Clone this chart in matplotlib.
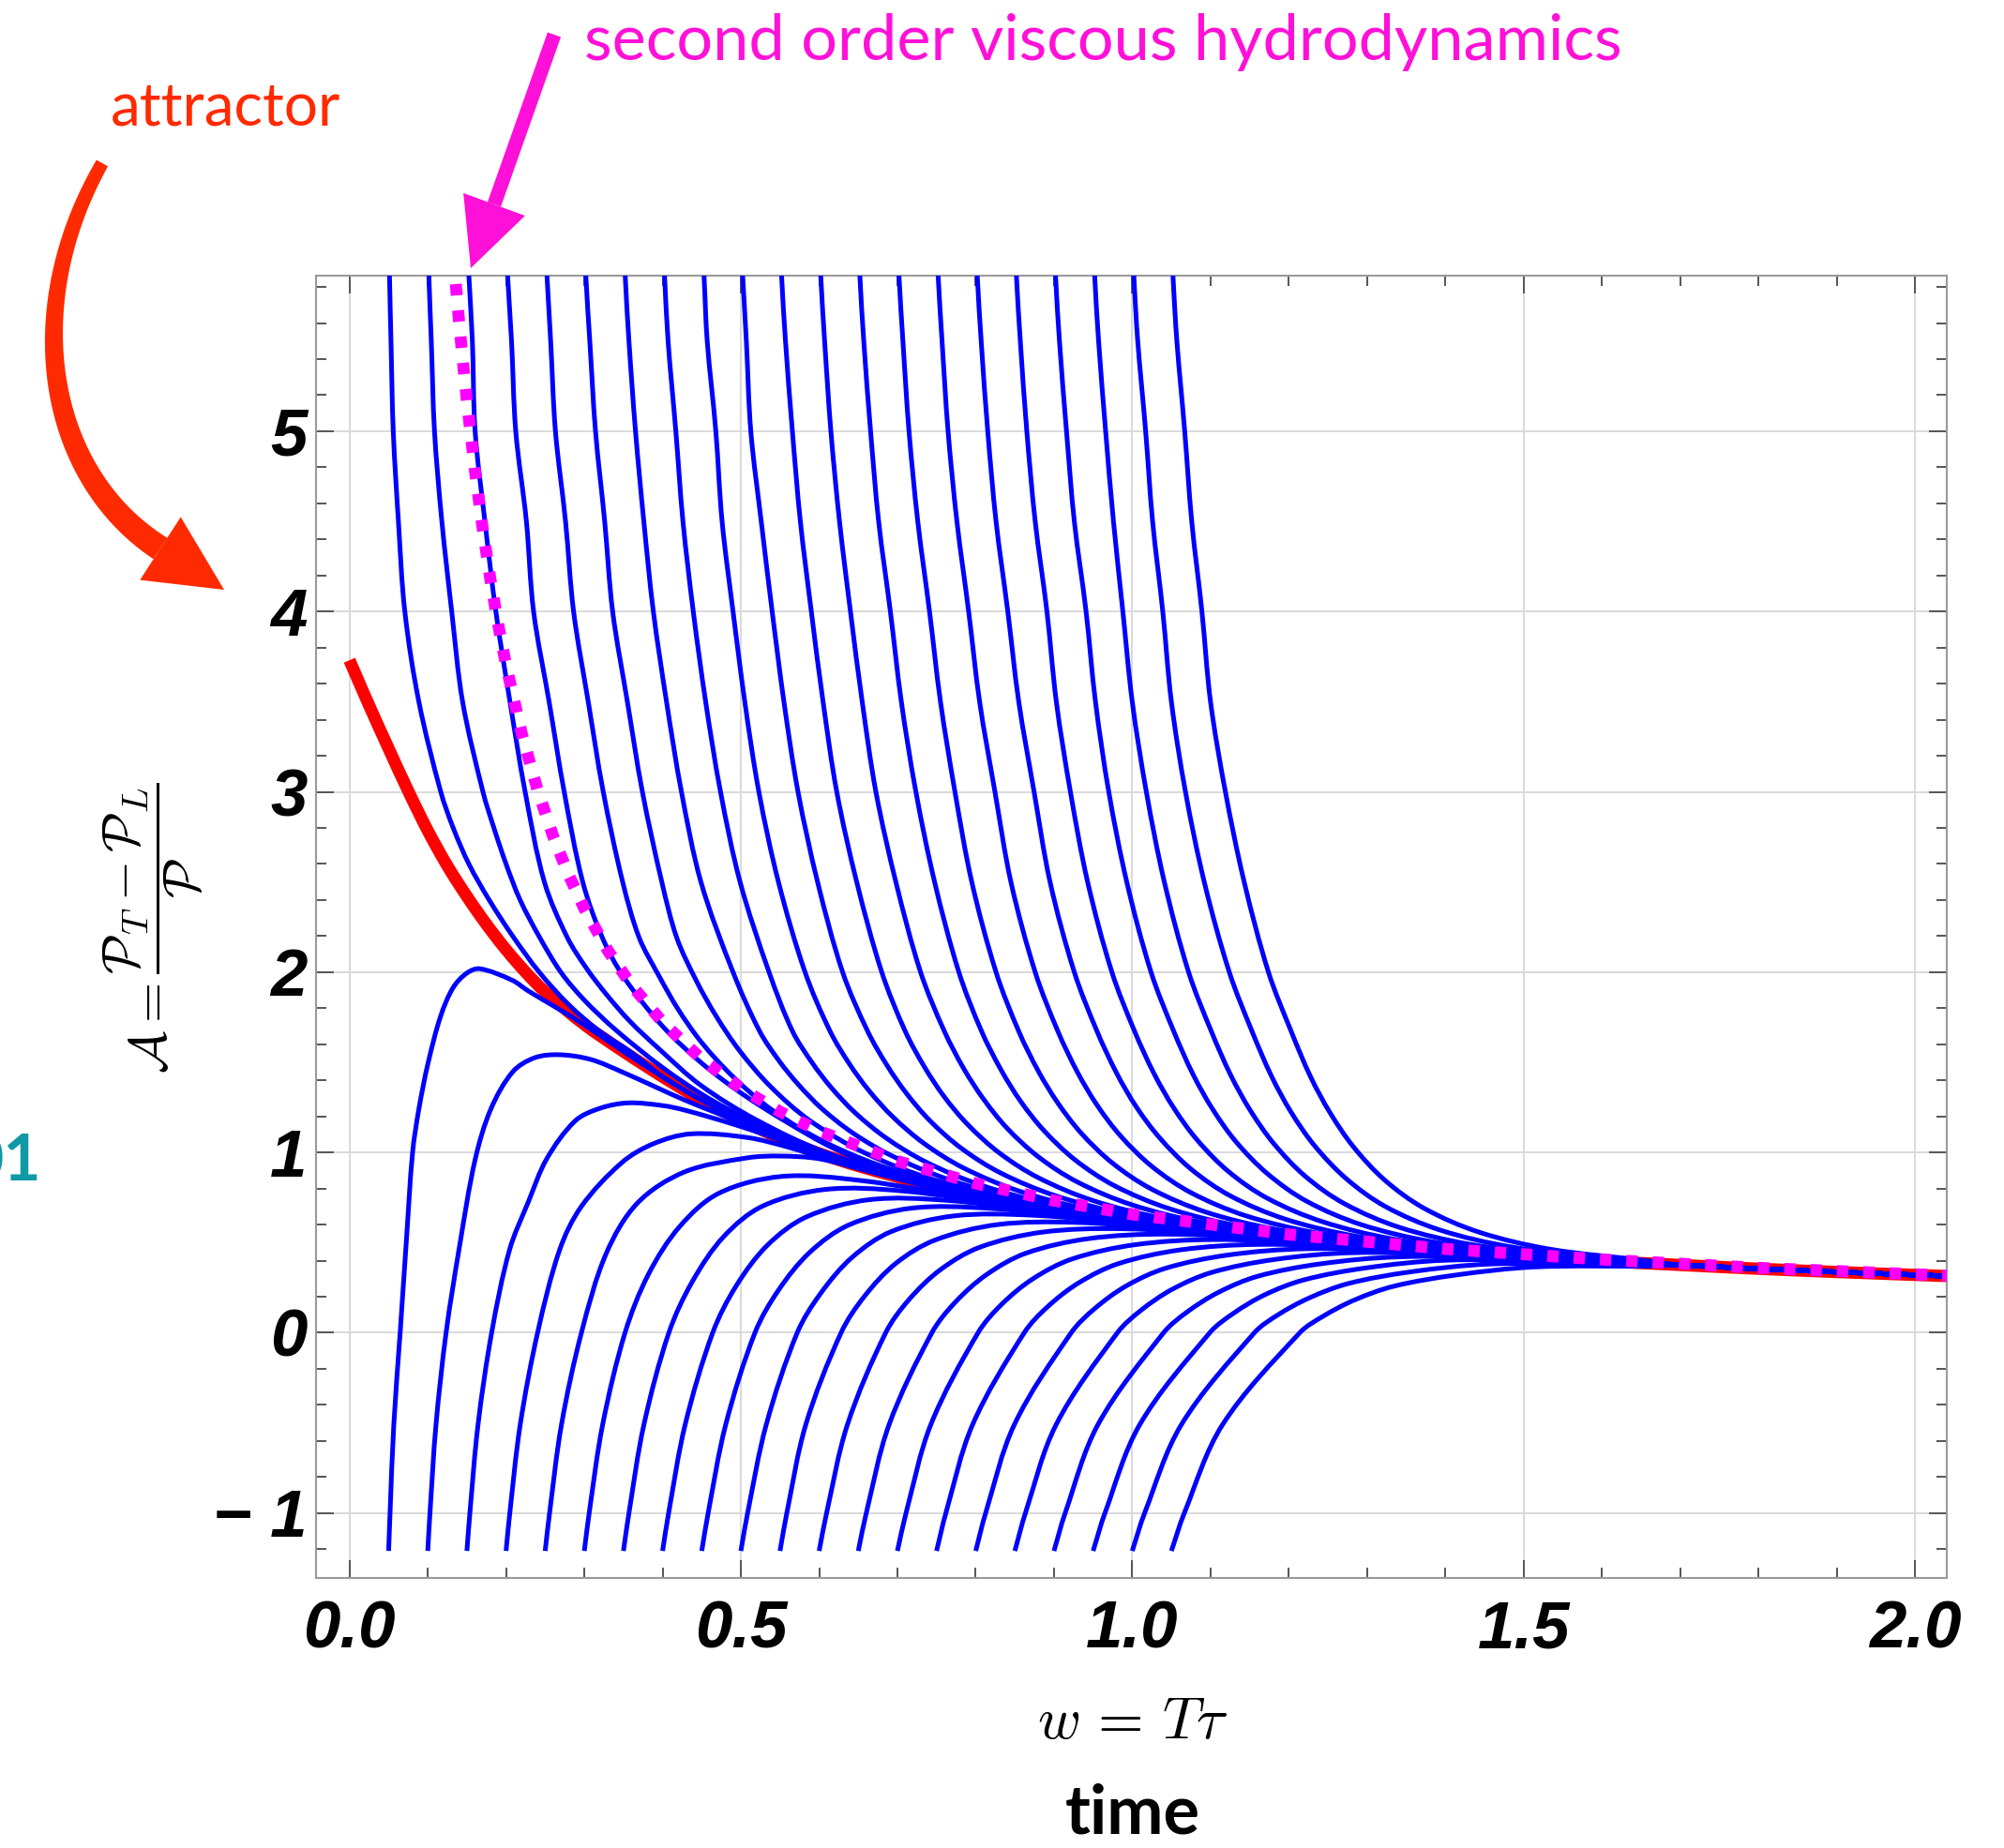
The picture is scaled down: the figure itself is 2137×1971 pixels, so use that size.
import numpy as np
import matplotlib
matplotlib.use("Agg")
import matplotlib.pyplot as plt
from matplotlib.patches import Polygon, PathPatch
from matplotlib.path import Path
from matplotlib.ticker import MultipleLocator
from matplotlib.font_manager import FontProperties

# ---- values ----------------------------------------------------------------

# attractor (red)
attractor_w = [0.0, 0.025, 0.05, 0.075, 0.1, 0.125, 0.15, 0.175, 0.2, 0.225, 0.25,
               0.3, 0.35, 0.4, 0.45, 0.5, 0.55, 0.6, 0.65, 0.7, 0.75, 0.8, 0.85,
               0.9, 0.95, 1.0, 1.1, 1.2, 1.3, 1.4, 1.5, 1.6, 1.7, 1.8, 1.9, 2.05]
attractor_a = [3.73, 3.48, 3.24, 3.005, 2.785, 2.59, 2.42, 2.265, 2.125, 2.0, 1.89,
               1.71, 1.56, 1.42, 1.29, 1.18, 1.08, 0.995, 0.925, 0.865, 0.81, 0.762, 0.72,
               0.683, 0.65, 0.62, 0.568, 0.524, 0.486, 0.453, 0.424, 0.398, 0.376, 0.355, 0.337, 0.313]

# second order viscous hydrodynamics (magenta, dotted)
hydro_w = [0.133, 0.135, 0.14, 0.145, 0.15, 0.16, 0.17, 0.18, 0.19, 0.20, 0.22, 0.24,
           0.26, 0.28, 0.30, 0.33, 0.36, 0.40, 0.45, 0.50, 0.55, 0.60, 0.70, 0.80,
           0.90, 1.0, 1.2, 1.4, 1.6, 1.8, 2.05]
hydro_a = [5.962, 5.857, 5.608, 5.379, 5.168, 4.791, 4.465, 4.179, 3.927, 3.703, 3.324, 3.014,
           2.756, 2.539, 2.353, 2.120, 1.929, 1.722, 1.517, 1.356, 1.226, 1.119, 0.952, 0.828,
           0.733, 0.657, 0.545, 0.465, 0.406, 0.360, 0.3155]

# trajectories coming down from large A (one row per curve)
top_w = [
    [0.0505, 0.0511, 0.053, 0.0559, 0.0625, 0.0707, 0.0886, 0.1166, 0.1325, 0.1525, 0.1785, 0.2085, 0.2424, 0.28, 0.32, 0.36],
    [0.101, 0.1014, 0.1045, 0.1086, 0.118, 0.1306, 0.1445, 0.1705, 0.1845, 0.200, 0.218, 0.242, 0.270, 0.30, 0.34, 0.40, 0.46, 0.55],
    [0.1515, 0.1525, 0.157, 0.1605, 0.173, 0.187, 0.205, 0.2244, 0.249, 0.2783, 0.3033, 0.3283, 0.3583, 0.3983, 0.4483, 0.5183, 0.6083, 0.7283],
    [0.201, 0.202, 0.207, 0.2124, 0.226, 0.2352, 0.255, 0.2743, 0.298, 0.323, 0.35, 0.40, 0.45, 0.50, 0.556, 0.62, 0.70, 0.80, 0.90],
    [0.251, 0.2523, 0.257, 0.2631, 0.276, 0.2863, 0.305, 0.3242, 0.349, 0.370, 0.395, 0.420, 0.450, 0.490, 0.540, 0.610, 0.700, 0.820],
    [0.301, 0.3019, 0.307, 0.3143, 0.326, 0.3362, 0.355, 0.3742, 0.399, 0.418, 0.443, 0.468, 0.498, 0.538, 0.588, 0.658, 0.748, 0.868],
    [0.351, 0.3522, 0.357, 0.3654, 0.376, 0.3882, 0.405, 0.4241, 0.449, 0.490, 0.524, 0.549, 0.574, 0.604, 0.644, 0.694, 0.764, 0.854, 0.974],
    [0.401, 0.4025, 0.407, 0.4169, 0.426, 0.4392, 0.455, 0.474, 0.499, 0.536, 0.566, 0.591, 0.616, 0.646, 0.686, 0.736, 0.806, 0.896, 1.016],
    [0.451, 0.4529, 0.457, 0.468, 0.476, 0.490, 0.505, 0.523, 0.548, 0.582, 0.614, 0.639, 0.664, 0.694, 0.734, 0.784, 0.854, 0.944, 1.064],
    [0.501, 0.5023, 0.507, 0.5127, 0.526, 0.540, 0.555, 0.573, 0.598, 0.630, 0.662, 0.687, 0.712, 0.742, 0.782, 0.832, 0.902, 0.992, 1.112],
    [0.551, 0.552, 0.557, 0.5658, 0.576, 0.590, 0.605, 0.6225, 0.648, 0.680, 0.710, 0.735, 0.760, 0.790, 0.830, 0.880, 0.950, 1.040, 1.160],
    [0.601, 0.602, 0.607, 0.615, 0.626, 0.640, 0.655, 0.6725, 0.698, 0.7296, 0.760, 0.785, 0.810, 0.840, 0.880, 0.930, 1.000, 1.090, 1.210],
    [0.651, 0.652, 0.657, 0.6657, 0.676, 0.691, 0.705, 0.7236, 0.7475, 0.7785, 0.8075, 0.8325, 0.8575, 0.8875, 0.9275, 0.9775, 1.0475, 1.1375, 1.2575],
    [0.701, 0.702, 0.707, 0.7148, 0.726, 0.741, 0.755, 0.7735, 0.795, 0.826, 0.855, 0.880, 0.905, 0.935, 0.975, 1.025, 1.095, 1.185, 1.305],
    [0.751, 0.752, 0.757, 0.7647, 0.776, 0.791, 0.805, 0.8246, 0.845, 0.876, 0.905, 0.930, 0.955, 0.985, 1.025, 1.075, 1.145, 1.235, 1.355],
    [0.801, 0.802, 0.807, 0.8154, 0.826, 0.841, 0.855, 0.8746, 0.895, 0.926, 0.955, 0.980, 1.005, 1.035, 1.075, 1.125, 1.195, 1.285, 1.405],
    [0.851, 0.852, 0.857, 0.8653, 0.876, 0.891, 0.903, 0.921, 0.943, 0.974, 1.003, 1.028, 1.053, 1.083, 1.123, 1.173, 1.243, 1.333, 1.453],
    [0.901, 0.902, 0.907, 0.916, 0.926, 0.941, 0.953, 0.970, 0.993, 1.024, 1.053, 1.078, 1.103, 1.133, 1.173, 1.223, 1.293, 1.383, 1.503],
    [0.951, 0.952, 0.957, 0.966, 0.976, 0.988, 1.000, 1.018, 1.041, 1.072, 1.101, 1.126, 1.151, 1.181, 1.221, 1.271, 1.341, 1.431, 1.551],
    [1.001, 1.002, 1.007, 1.0171, 1.026, 1.039, 1.050, 1.068, 1.092, 1.124, 1.153, 1.178, 1.203, 1.233, 1.273, 1.323, 1.393, 1.483, 1.603],
    [1.051, 1.052, 1.057, 1.067, 1.076, 1.089, 1.100, 1.119, 1.143, 1.174, 1.203, 1.228, 1.253, 1.283, 1.323, 1.373, 1.443, 1.533, 1.653],
]
top_a = [
    [6.0, 5.863, 5.5, 5.0, 4.5, 4.0, 3.5, 3.0, 2.8, 2.6, 2.4, 2.2, 2.0, 1.82, 1.67, 1.555],
    [6.0, 5.863, 5.5, 5.0, 4.5, 4.0, 3.5, 3.0, 2.8, 2.6, 2.4, 2.2, 2.0, 1.845, 1.68, 1.471, 1.297, 1.092],
    [6.0, 5.863, 5.5, 5.0, 4.5, 4.0, 3.5, 3.0, 2.5, 2.192, 2.018, 1.876, 1.727, 1.563, 1.374, 1.184, 1.0, 0.84],
    [6.0, 5.863, 5.5, 5.0, 4.5, 4.0, 3.5, 3.0, 2.5, 2.192, 1.975, 1.70, 1.495, 1.33, 1.175, 1.02, 0.882, 0.77, 0.686],
    [6.0, 5.863, 5.5, 5.0, 4.5, 4.0, 3.5, 3.0, 2.5, 2.192, 1.982, 1.793, 1.609, 1.420, 1.235, 1.051, 0.894, 0.755],
    [6.0, 5.863, 5.5, 5.0, 4.5, 4.0, 3.5, 3.0, 2.5, 2.192, 1.953, 1.759, 1.566, 1.365, 1.177, 0.998, 0.847, 0.718],
    [6.0, 5.863, 5.5, 5.0, 4.5, 4.0, 3.5, 3.0, 2.5, 2.0, 1.672, 1.507, 1.374, 1.241, 1.105, 0.979, 0.852, 0.740, 0.643],
    [6.0, 5.863, 5.5, 5.0, 4.5, 4.0, 3.5, 3.0, 2.5, 2.0, 1.672, 1.498, 1.357, 1.220, 1.079, 0.948, 0.820, 0.713, 0.621],
    [6.0, 5.863, 5.5, 5.0, 4.5, 4.0, 3.5, 3.0, 2.5, 2.0, 1.672, 1.489, 1.341, 1.198, 1.050, 0.915, 0.788, 0.684, 0.597],
    [6.0, 5.863, 5.5, 5.0, 4.5, 4.0, 3.5, 3.0, 2.5, 2.0, 1.672, 1.481, 1.325, 1.174, 1.022, 0.886, 0.760, 0.658, 0.574],
    [6.0, 5.863, 5.5, 5.0, 4.5, 4.0, 3.5, 3.0, 2.5, 2.0, 1.672, 1.471, 1.308, 1.154, 0.998, 0.860, 0.733, 0.634, 0.553],
    [6.0, 5.863, 5.5, 5.0, 4.5, 4.0, 3.5, 3.0, 2.5, 2.0, 1.672, 1.463, 1.296, 1.135, 0.976, 0.836, 0.709, 0.611, 0.532],
    [6.0, 5.863, 5.5, 5.0, 4.5, 4.0, 3.5, 3.0, 2.5, 2.0, 1.672, 1.457, 1.283, 1.120, 0.957, 0.815, 0.688, 0.591, 0.515],
    [6.0, 5.863, 5.5, 5.0, 4.5, 4.0, 3.5, 3.0, 2.5, 2.0, 1.672, 1.451, 1.274, 1.106, 0.940, 0.796, 0.668, 0.572, 0.497],
    [6.0, 5.863, 5.5, 5.0, 4.5, 4.0, 3.5, 3.0, 2.5, 2.0, 1.672, 1.445, 1.263, 1.092, 0.923, 0.777, 0.649, 0.554, 0.482],
    [6.0, 5.863, 5.5, 5.0, 4.5, 4.0, 3.5, 3.0, 2.5, 2.0, 1.672, 1.440, 1.254, 1.081, 0.908, 0.760, 0.631, 0.536, 0.466],
    [6.0, 5.863, 5.5, 5.0, 4.5, 4.0, 3.5, 3.0, 2.5, 2.0, 1.672, 1.436, 1.247, 1.069, 0.894, 0.745, 0.616, 0.520, 0.453],
    [6.0, 5.863, 5.5, 5.0, 4.5, 4.0, 3.5, 3.0, 2.5, 2.0, 1.672, 1.430, 1.238, 1.057, 0.881, 0.729, 0.599, 0.505, 0.438],
    [6.0, 5.863, 5.5, 5.0, 4.5, 4.0, 3.5, 3.0, 2.5, 2.0, 1.672, 1.427, 1.232, 1.048, 0.868, 0.716, 0.585, 0.491, 0.426],
    [6.0, 5.863, 5.5, 5.0, 4.5, 4.0, 3.5, 3.0, 2.5, 2.0, 1.672, 1.422, 1.223, 1.037, 0.856, 0.701, 0.570, 0.477, 0.413],
    [6.0, 5.863, 5.5, 5.0, 4.5, 4.0, 3.5, 3.0, 2.5, 2.0, 1.672, 1.418, 1.218, 1.029, 0.845, 0.690, 0.558, 0.464, 0.402],
]

# trajectories rising from A = -1.21 (one row per curve)
bottom_w = [
    [0.05, 0.0518, 0.0566, 0.0647, 0.0725, 0.0806, 0.0886, 0.1006, 0.1166, 0.1325, 0.15, 0.1665, 0.208, 0.228, 0.288, 0.328],
    [0.10, 0.1028, 0.1105, 0.1234, 0.1406, 0.1605, 0.1805, 0.2085, 0.2364, 0.268, 0.308, 0.348, 0.428, 0.468, 0.50],
    [0.15, 0.1538, 0.1642, 0.1816, 0.2044, 0.2284, 0.252, 0.2883, 0.32, 0.356, 0.40, 0.428, 0.488, 0.54, 0.60],
    [0.20, 0.2048, 0.2181, 0.2403, 0.2684, 0.2963, 0.348, 0.388, 0.436, 0.508, 0.56, 0.62, 0.70],
    [0.25, 0.2556, 0.2708, 0.2963, 0.328, 0.368, 0.428, 0.508, 0.55, 0.60, 0.66, 0.75],
    [0.30, 0.3062, 0.3234, 0.352, 0.382, 0.422, 0.472, 0.552, 0.652, 0.802],
    [0.35, 0.357, 0.3761, 0.408, 0.438, 0.478, 0.528, 0.608, 0.708, 0.858],
    [0.40, 0.4077, 0.4288, 0.464, 0.494, 0.534, 0.584, 0.664, 0.764, 0.914],
    [0.45, 0.4582, 0.4806, 0.518, 0.548, 0.588, 0.638, 0.718, 0.818, 0.968],
    [0.50, 0.5086, 0.5324, 0.572, 0.602, 0.642, 0.692, 0.772, 0.872, 1.022],
    [0.55, 0.5587, 0.5829, 0.628, 0.658, 0.698, 0.748, 0.828, 0.928, 1.078],
    [0.60, 0.6095, 0.6361, 0.685, 0.715, 0.755, 0.805, 0.885, 0.985, 1.135],
    [0.65, 0.6602, 0.6893, 0.744, 0.774, 0.814, 0.864, 0.944, 1.044, 1.194],
    [0.70, 0.711, 0.7426, 0.803, 0.833, 0.873, 0.923, 1.003, 1.103, 1.253],
    [0.75, 0.7619, 0.796, 0.862, 0.892, 0.932, 0.982, 1.062, 1.162, 1.312],
    [0.80, 0.8127, 0.8493, 0.922, 0.952, 0.992, 1.042, 1.122, 1.222, 1.372],
    [0.85, 0.8635, 0.9027, 0.981, 1.011, 1.051, 1.101, 1.181, 1.281, 1.431],
    [0.90, 0.9143, 0.9561, 1.040, 1.070, 1.110, 1.160, 1.240, 1.340, 1.490],
    [0.95, 0.9651, 1.0095, 1.099, 1.129, 1.169, 1.219, 1.299, 1.399, 1.549],
    [1.0, 1.0158, 1.0627, 1.156, 1.186, 1.226, 1.276, 1.356, 1.456, 1.606],
    [1.05, 1.0665, 1.1153, 1.214, 1.244, 1.284, 1.334, 1.414, 1.514, 1.664],
]
bottom_a = [
    [-1.21, -1.0, -0.51, 0.0, 0.5, 1.0, 1.24, 1.5, 1.758, 1.915, 1.995, 2.019, 1.955, 1.897, 1.741, 1.625],
    [-1.21, -1.0, -0.51, 0.0, 0.48, 0.96, 1.24, 1.447, 1.525, 1.542, 1.516, 1.447, 1.291, 1.221, 1.165],
    [-1.21, -1.0, -0.51, 0.0, 0.459, 0.725, 0.965, 1.175, 1.245, 1.275, 1.26, 1.235, 1.16, 1.085, 0.985],
    [-1.21, -1.0, -0.51, 0.0, 0.459, 0.701, 0.944, 1.048, 1.103, 1.083, 1.03, 0.95, 0.855],
    [-1.21, -1.0, -0.51, 0.0, 0.44, 0.72, 0.892, 0.97, 0.98, 0.965, 0.90, 0.80],
    [-1.21, -1.0, -0.51, 0.0, 0.325, 0.590, 0.774, 0.867, 0.845, 0.743],
    [-1.21, -1.0, -0.51, 0.0, 0.284, 0.533, 0.703, 0.795, 0.786, 0.699],
    [-1.21, -1.0, -0.51, 0.0, 0.260, 0.486, 0.643, 0.738, 0.734, 0.660],
    [-1.21, -1.0, -0.51, 0.0, 0.236, 0.446, 0.598, 0.691, 0.690, 0.626],
    [-1.21, -1.0, -0.51, 0.0, 0.219, 0.418, 0.561, 0.648, 0.652, 0.598],
    [-1.21, -1.0, -0.51, 0.0, 0.203, 0.385, 0.514, 0.600, 0.612, 0.568],
    [-1.21, -1.0, -0.51, 0.0, 0.185, 0.350, 0.474, 0.558, 0.577, 0.541],
    [-1.21, -1.0, -0.51, 0.0, 0.170, 0.323, 0.441, 0.522, 0.547, 0.517],
    [-1.21, -1.0, -0.51, 0.0, 0.157, 0.299, 0.409, 0.488, 0.517, 0.494],
    [-1.21, -1.0, -0.51, 0.0, 0.145, 0.278, 0.383, 0.460, 0.490, 0.472],
    [-1.21, -1.0, -0.51, 0.0, 0.134, 0.259, 0.357, 0.431, 0.466, 0.454],
    [-1.21, -1.0, -0.51, 0.0, 0.124, 0.241, 0.334, 0.406, 0.444, 0.434],
    [-1.21, -1.0, -0.51, 0.0, 0.115, 0.224, 0.313, 0.382, 0.421, 0.417],
    [-1.21, -1.0, -0.51, 0.0, 0.107, 0.210, 0.293, 0.360, 0.402, 0.400],
    [-1.21, -1.0, -0.51, 0.0, 0.099, 0.193, 0.273, 0.338, 0.381, 0.382],
    [-1.21, -1.0, -0.51, 0.0, 0.092, 0.182, 0.258, 0.3205, 0.365, 0.370],
]

x_ticks = [0.0, 0.5, 1.0, 1.5, 2.0]
x_tick_labels = ["0.0", "0.5", "1.0", "1.5", "2.0"]
y_ticks = [-1, 0, 1, 2, 3, 4, 5]
y_tick_labels = ["\u2212 1", "0", "1", "2", "3", "4", "5"]

BLUE = "#0000ff"
RED = "#ff0000"
MAGENTA = "#ff00ff"
NOTE_RED = "#ff2a00"
NOTE_MAGENTA = "#ff10d8"
TEAL = "#0f9aa5"

W_PX, H_PX = 2137, 1971
# rough pixels per data unit, only used to measure chord lengths when smoothing
PX_W, PX_A = 834.7, 192.3


def along_attractor(w, a):
    """Once a trajectory has merged, carry it on along the attractor."""
    w, a = list(w), list(a)
    for aw, aa in zip(attractor_w, attractor_a):
        if aw > w[-1] + 0.015:
            w.append(aw)
            a.append(aa)
    return w, a


def smooth_path(w, a):
    """Bezier path running through the read points (chord-length tangents)."""
    q = np.column_stack([w, a]).astype(float) * [PX_W, PX_A]
    d = np.linalg.norm(np.diff(q, axis=0), axis=1)
    tan = np.zeros_like(q)
    tan[0] = (q[1] - q[0]) / d[0]
    tan[-1] = (q[-1] - q[-2]) / d[-1]
    for i in range(1, len(q) - 1):
        tan[i] = (q[i + 1] - q[i - 1]) / (d[i - 1] + d[i])
    verts, codes = [q[0]], [Path.MOVETO]
    for i in range(len(q) - 1):
        verts += [q[i] + tan[i] * d[i] / 3, q[i + 1] - tan[i + 1] * d[i] / 3, q[i + 1]]
        codes += [Path.CURVE4] * 3
    return Path(np.array(verts) / [PX_W, PX_A], codes)


def draw_curve(ax, w, a, **kw):
    patch = PathPatch(smooth_path(w, a), fill=False, **kw)
    patch.set_capstyle("butt")
    patch.set_joinstyle("round")
    ax.add_patch(patch)


def bezier(p0, p1, p2, p3, n=80):
    t = np.linspace(0, 1, n)[:, None]
    p0, p1, p2, p3 = (np.asarray(p, float) for p in (p0, p1, p2, p3))
    return ((1 - t) ** 3 * p0 + 3 * (1 - t) ** 2 * t * p1
            + 3 * (1 - t) * t ** 2 * p2 + t ** 3 * p3)


def draw_arrow(ax, centre, tip, w_start, w_end, head_w, color):
    """Filled arrow (pixel coords) with a tapering shaft along `centre`."""
    c = np.asarray(centre, float)
    d = np.gradient(c, axis=0)
    d /= np.linalg.norm(d, axis=1)[:, None]
    nrm = np.column_stack([-d[:, 1], d[:, 0]])
    half = np.linspace(w_start, w_end, len(c))[:, None] / 2
    outline = np.vstack([c + nrm * half, (c - nrm * half)[::-1]])
    ax.add_patch(Polygon(outline, closed=True, fc=color, ec="none"))
    tip = np.asarray(tip, float)
    end = c[-1]
    u = (tip - end) / np.linalg.norm(tip - end)
    n = np.array([-u[1], u[0]])
    head = [tip, end + n * head_w / 2, end - n * head_w / 2]
    ax.add_patch(Polygon(head, closed=True, fc=color, ec="none"))


plt.rcParams["mathtext.fontset"] = "cm"

fig = plt.figure(figsize=(W_PX / 100, H_PX / 100), dpi=100)
fig.patch.set_facecolor("white")

left, right, top, bottom = 337.3, 2076.0, 294.0, 1683.0
ax = fig.add_axes([left / W_PX, (H_PX - bottom) / H_PX,
                   (right - left) / W_PX, (bottom - top) / H_PX])

draw_curve(ax, attractor_w, attractor_a, edgecolor=RED, lw=9.4, zorder=2)

for w, a in zip(top_w, top_a):
    draw_curve(ax, *along_attractor(w, a), edgecolor=BLUE, lw=3.6, zorder=3)

for w, a in zip(bottom_w, bottom_a):
    draw_curve(ax, *along_attractor(w, a), edgecolor=BLUE, lw=3.6, zorder=3)

ax.plot(hydro_w, hydro_a, color=MAGENTA, lw=9.2, linestyle=(0, (0.95, 1.25)),
        dash_capstyle="butt", zorder=4)

ax.set_xlim(-0.0424, 2.0406)
ax.set_ylim(-1.36, 5.863)

tick_font = FontProperties(family="Liberation Sans", weight="bold", style="italic", size=51)
ax.set_xticks(x_ticks)
ax.set_xticklabels(x_tick_labels, fontproperties=tick_font)
ax.set_yticks(y_ticks)
ax.set_yticklabels(y_tick_labels, fontproperties=tick_font)
ax.xaxis.set_minor_locator(MultipleLocator(0.1))
ax.yaxis.set_minor_locator(MultipleLocator(0.2))
ax.tick_params(which="both", direction="in", top=True, right=True,
               color="#555555", labelcolor="black", width=1.4)
ax.tick_params(which="major", length=13.7)
ax.tick_params(which="minor", length=7.9)
ax.tick_params(axis="x", pad=17)
ax.tick_params(axis="y", pad=7)

ax.grid(True, which="major", color="#d9d9d9", lw=1.4)
ax.set_axisbelow(True)
for sp in ax.spines.values():
    sp.set_color("#9a9a9a")
    sp.set_linewidth(1.5)

# overlay in pixel coordinates for labels and the annotation arrows
over = fig.add_axes([0, 0, 1, 1])
over.set_xlim(0, W_PX)
over.set_ylim(H_PX, 0)
over.axis("off")
over.patch.set_visible(False)

over.text(1208, 1854, r"$w\,=\,T\tau$", ha="center", va="baseline", fontsize=45)
over.text(163, 990, r"$\mathcal{A}=\dfrac{\mathcal{P}_T-\mathcal{P}_L}{\mathcal{P}}$",
          rotation=90, ha="center", va="center", fontsize=40)
over.text(1208, 1955, "time", ha="center", va="baseline", fontsize=52,
          family="Lato", weight="bold")

over.text(118, 134, "attractor", ha="left", va="baseline", fontsize=46,
          family="Lato", color=NOTE_RED)
over.text(623, 64, "second order viscous hydrodynamics", ha="left", va="baseline",
          fontsize=49.2, family="Lato", color=NOTE_MAGENTA)
over.text(44, 1260, "01", ha="right", va="baseline", fontsize=50,
          family="Lato", weight="bold", color=TEAL)

draw_arrow(over, bezier((109, 174), (20, 330), (50, 507), (171, 585)),
           tip=(239, 629), w_start=14, w_end=27, head_w=80, color=NOTE_RED)
draw_arrow(over, [(591, 37), (527, 218)], tip=(502, 286),
           w_start=15, w_end=15, head_w=70, color=NOTE_MAGENTA)

fig.savefig("out.png", dpi=100)
